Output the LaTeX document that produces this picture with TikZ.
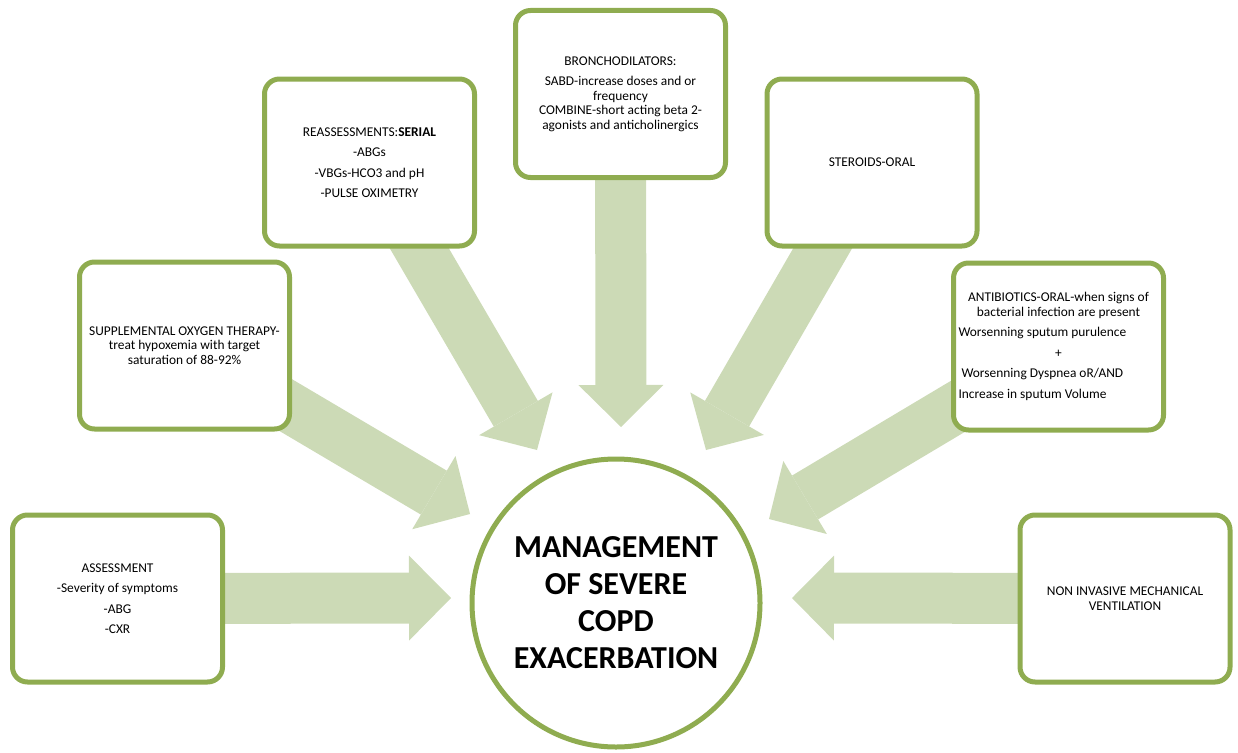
\documentclass[tikz,border=0pt]{standalone}
\usepackage{fontspec}
\setmainfont{Carlito}
\usepackage{tikz}
\usetikzlibrary{arrows.meta,backgrounds}
\definecolor{boxgreen}{RGB}{143,172,80}
\definecolor{arrowgreen}{RGB}{204,218,182}

\begin{document}
\begin{tikzpicture}[x=1pt,y=-1pt]
        \tikzstyle{every node} = [align=center, font=\fontsize{13.4}{14.5}\selectfont]
        \tikzstyle{box} = [rectangle, rounded corners=15pt, draw=boxgreen, line width=5pt, fill=white, minimum width=210pt, minimum height=167pt, inner sep=4pt]
        \tikzstyle{fat} = [draw=arrowgreen, line width=51pt, shorten <=-20pt, -{Triangle[width=85pt,length=42pt,line width=0pt]}]
        \useasboundingbox (0,0) rectangle (1238,752);

        \node[box] (assess) at (117.5,598.5) {ASSESSMENT\\[6pt]-Severity of symptoms\\[6pt]-ABG\\[6pt]-CXR};
        \node[box] (oxygen) at (184.5,345.5) {SUPPLEMENTAL OXYGEN THERAPY-\\treat hypoxemia with target\\saturation of 88-92\%};
        \node[box] (reassess) at (369.5,162.5) {REASSESSMENTS:\textbf{SERIAL}\\[6pt]-ABGs\\[6pt]-VBGs-HCO3 and pH\\[6pt]-PULSE OXIMETRY};
        \node[box] (broncho) at (620.5,94) {BRONCHODILATORS:\\[6pt]SABD-increase doses and or\\frequency\\COMBINE-short acting beta 2-\\agonists and anticholinergics};
        \node[box] (steroids) at (872,162.5) {STEROIDS-ORAL};
        \node[box] (antibio) at (1058.5,346.5) {ANTIBIOTICS-ORAL-when signs of\\bacterial infection are present\\[6pt]\makebox[200pt][l]{Worsenning sputum purulence}\\[6pt]+\\[6pt]\makebox[200pt][l]{\ Worsenning Dyspnea oR/AND}\\[6pt]\makebox[200pt][l]{Increase in sputum Volume}};
        \node[box] (niv) at (1125,598.5) {NON INVASIVE MECHANICAL\\VENTILATION};

        \node[circle, draw=boxgreen, line width=5pt, fill=white, minimum size=288pt, inner sep=0pt, font=\bfseries\fontsize{32}{37}\selectfont] (copd) at (616,603) {MANAGEMENT\\OF SEVERE\\COPD\\EXACERBATION};

        \coordinate (tipA) at (451,598);
        \coordinate (tipO) at (470,514);
        \coordinate (tipR) at (537,450);
        \coordinate (tipB) at (621,427);
        \coordinate (tipS) at (706,450);
        \coordinate (tipAb) at (769,519);
        \coordinate (tipN) at (792,598);

        \begin{pgfonlayer}{background}
        \foreach \from/\to in {assess/tipA, oxygen/tipO, reassess/tipR, broncho/tipB, steroids/tipS, antibio/tipAb, niv/tipN}
            \draw[fat] (\from) -- (\to);
        \end{pgfonlayer}
      \end{tikzpicture}
\end{document}
